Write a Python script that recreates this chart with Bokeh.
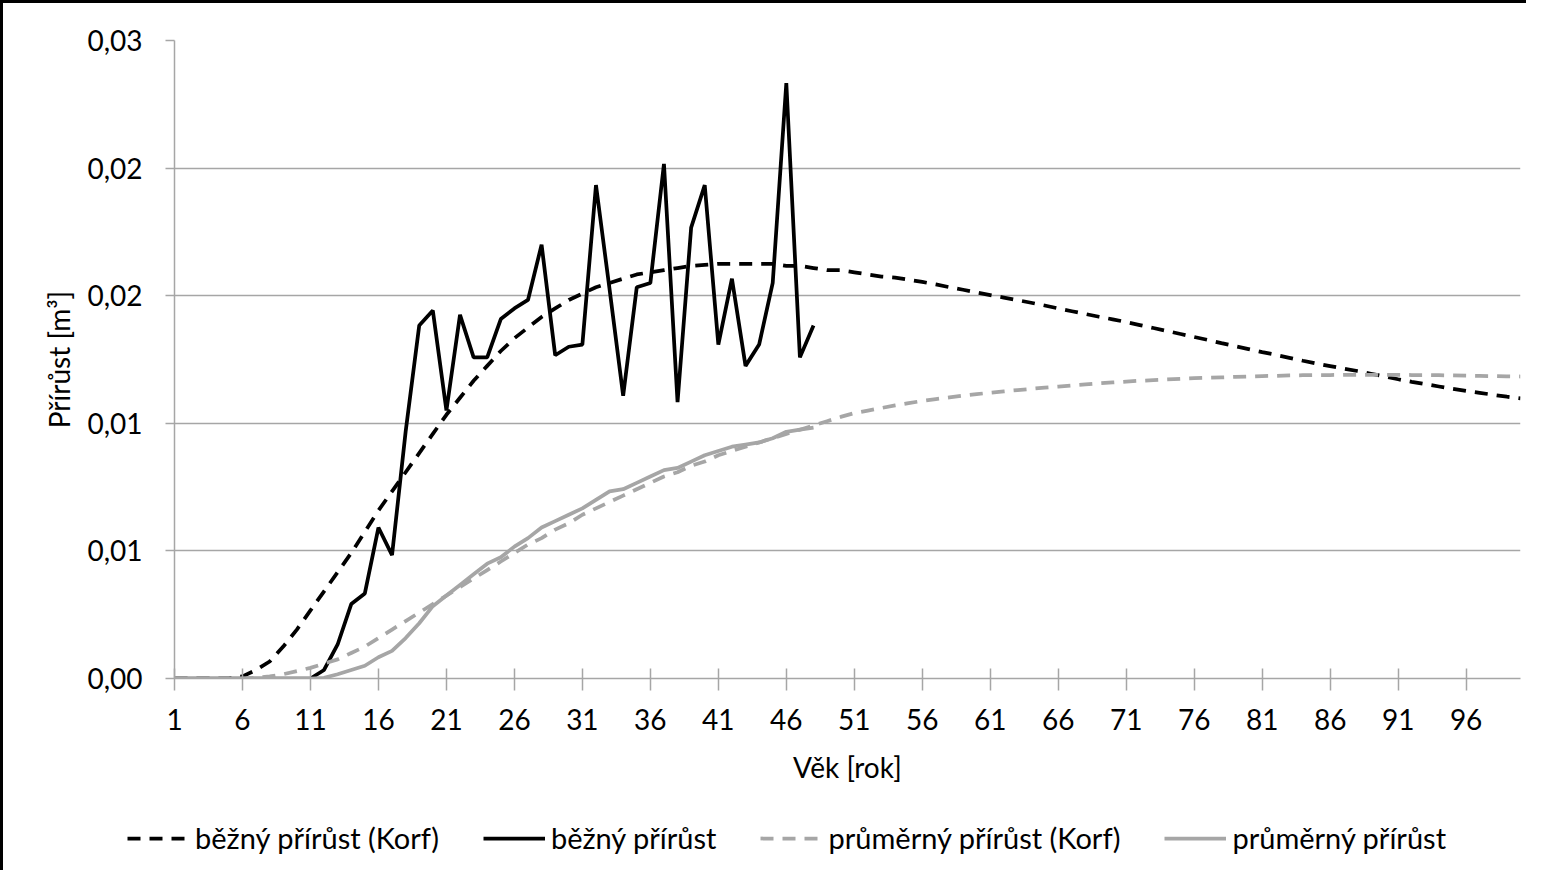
from bokeh.plotting import figure
from bokeh.layouts import column
from bokeh.models import Range1d, FixedTicker, CustomJSTickFormatter, Legend, LegendItem
from bokeh.embed import file_html
from bokeh.resources import INLINE

# ---------------- data ----------------
ages = list(range(1, 101))
bezny_korf = [
    0, 0, 0, 0, 0, 0.0001, 0.0004, 0.0008, 0.0015, 0.0023,
    0.0032, 0.0041, 0.0050, 0.0059, 0.0069, 0.0079, 0.0088, 0.0097, 0.0106, 0.0115,
    0.0124, 0.0132, 0.0140, 0.0147, 0.0154, 0.0160, 0.0165, 0.0170, 0.0174, 0.0178,
    0.0181, 0.0184, 0.0186, 0.0188, 0.0190, 0.0191, 0.0192, 0.0193, 0.0194, 0.01945,
    0.0195, 0.0195, 0.0195, 0.0195, 0.0195, 0.0194, 0.0194, 0.0193, 0.0192, 0.0192,
    0.0191, 0.0190, 0.0189, 0.01885, 0.01875, 0.01865, 0.01853, 0.0184, 0.01828, 0.01815,
    0.01803, 0.01791, 0.01779, 0.01767, 0.01754, 0.0174, 0.01727, 0.01714, 0.01701, 0.01689,
    0.01676, 0.01662, 0.01648, 0.01634, 0.0162, 0.01606, 0.01592, 0.01577, 0.01563, 0.01549,
    0.01535, 0.01522, 0.01508, 0.01494, 0.01481, 0.01469, 0.01457, 0.01446, 0.01433, 0.0142,
    0.01407, 0.01395, 0.01384, 0.01373, 0.01362, 0.01352, 0.01343, 0.01334, 0.01325, 0.01317,
]
prumerny_korf = [
    0, 0, 0, 0, 0, 0.00001, 0.00004, 0.0001, 0.0002, 0.00035,
    0.0005, 0.0007, 0.0009, 0.0012, 0.0015, 0.0019, 0.0023, 0.0027, 0.0031, 0.0035,
    0.0039, 0.0043, 0.0047, 0.0051, 0.0055, 0.0059, 0.0063, 0.0066, 0.0070, 0.0073,
    0.0077, 0.0080, 0.0083, 0.0086, 0.0089, 0.0092, 0.0095, 0.0097, 0.0100, 0.0102,
    0.0105, 0.0107, 0.0109, 0.0111, 0.0113, 0.0115, 0.0117, 0.0119, 0.0121, 0.0123,
    0.01248, 0.0126, 0.01272, 0.01284, 0.01295, 0.01305, 0.01314, 0.01322, 0.0133, 0.01337,
    0.01344, 0.0135, 0.01356, 0.01362, 0.01368, 0.01373, 0.01378, 0.01383, 0.01388, 0.01392,
    0.01396, 0.0140, 0.01403, 0.01406, 0.01409, 0.01412, 0.01414, 0.01416, 0.01418, 0.0142,
    0.01422, 0.01423, 0.01425, 0.01426, 0.01427, 0.01427, 0.01428, 0.01428, 0.01428, 0.01428,
    0.01428, 0.01427, 0.01427, 0.01426, 0.01425, 0.01424, 0.01423, 0.01422, 0.01421, 0.0142,
]
ages_measured = list(range(1, 49))
bezny = [
    0, 0, 0, 0, 0, 0, 0, 0, 0, 0,
    0, 0.0004, 0.0016, 0.0035, 0.0040, 0.0071, 0.0058, 0.0116, 0.0166, 0.0173,
    0.0126, 0.0171, 0.0151, 0.0151, 0.0169, 0.0174, 0.0178, 0.0204, 0.0152, 0.0156,
    0.0157, 0.0232, 0.0183, 0.0133, 0.0184, 0.0186, 0.0242, 0.0130, 0.0212, 0.0232,
    0.0157, 0.0188, 0.0147, 0.0157, 0.0186, 0.0280, 0.0151, 0.0166,
]
prumerny = [
    0, 0, 0, 0, 0, 0, 0, 0, 0, 0,
    0, 0.00003, 0.0002, 0.0004, 0.0006, 0.0010, 0.0013, 0.0019, 0.0026, 0.0034,
    0.0039, 0.0044, 0.0049, 0.0054, 0.0057, 0.0062, 0.0066, 0.0071, 0.0074, 0.0077,
    0.0080, 0.0084, 0.0088, 0.0089, 0.0092, 0.0095, 0.0098, 0.0099, 0.0102, 0.0105,
    0.0107, 0.0109, 0.0110, 0.0111, 0.0113, 0.0116, 0.0117, 0.0118,
]
series_names = ["běžný přírůst (Korf)", "běžný přírůst",
                "průměrný přírůst (Korf)", "průměrný přírůst"]
x_ticks = list(range(1, 100, 5))
y_ticks = [0, 0.006, 0.012, 0.018, 0.024, 0.03]
y_tick_labels = ["0,00", "0,01", "0,01", "0,02", "0,02", "0,03"]
x_title = "Věk [rok]"
y_title = "Přírůst [m³]"

# ---------------- main figure ----------------
FONT = "Lato"
W, H1, H2 = 1526, 800, 70
GRID = "#a6a6a6"
GRAY = "#a6a6a6"
LW = 3.75
DASH = "13 9"

p = figure(width=W, height=H1, output_backend="svg", toolbar_location=None,
           x_range=Range1d(1, 100), y_range=Range1d(0, 0.03),
           min_border_left=171, min_border_right=9,
           min_border_top=37, min_border_bottom=125)
p.styles = {"border-left": "3px solid black", "border-top": "3px solid black"}
p.background_fill_color = "white"
p.border_fill_color = "white"
p.outline_line_color = None

p.xgrid.grid_line_color = None
p.ygrid.grid_line_color = GRID
p.ygrid.grid_line_width = 1.5
p.ygrid.ticker = FixedTicker(ticks=y_ticks)

p.xaxis.ticker = FixedTicker(ticks=x_ticks)
p.yaxis.ticker = FixedTicker(ticks=y_ticks)
p.yaxis.formatter = CustomJSTickFormatter(
    args=dict(tvals=y_ticks, tlabels=y_tick_labels),
    code="""
for (let i = 0; i < tvals.length; i++) {
  if (Math.abs(tvals[i] - tick) < 1e-9) return tlabels[i];
}
return "";
""")

for ax in (p.xaxis[0], p.yaxis[0]):
    ax.axis_line_color = GRID
    ax.axis_line_width = 1.5
    ax.major_tick_line_color = GRID
    ax.major_tick_line_width = 1.5
    ax.minor_tick_line_color = None
    ax.major_label_text_font = FONT
    ax.major_label_text_font_size = "28px"
    ax.major_label_text_color = "black"
    ax.axis_label_text_font = FONT
    ax.axis_label_text_font_size = "28px"
    ax.axis_label_text_font_style = "normal"
    ax.axis_label_text_color = "black"

p.xaxis.major_tick_in = 10
p.xaxis.major_tick_out = 12
p.xaxis.major_label_standoff = 18
p.xaxis.axis_label = x_title
p.xaxis.axis_label_standoff = 17

p.yaxis.major_tick_in = 0
p.yaxis.major_tick_out = 9
p.yaxis.major_label_standoff = 23
p.yaxis.axis_label = y_title
p.yaxis.axis_label_standoff = 8

styles = [dict(line_color="black", line_dash=DASH),
          dict(line_color="black"),
          dict(line_color=GRAY, line_dash=DASH),
          dict(line_color=GRAY)]
series = [(ages, bezny_korf), (ages_measured, bezny),
          (ages, prumerny_korf), (ages_measured, prumerny)]
for (xs, ys), st in zip(series, styles):
    p.line(xs, ys, line_width=LW, **st)

# ---------------- legend strip (series drawn out of view, only the legend shows) ----
q = figure(width=W, height=H2, output_backend="svg", toolbar_location=None,
           x_range=Range1d(200, 300), y_range=Range1d(0, 0.03),
           x_axis_location=None, y_axis_location=None,
           min_border_left=0, min_border_right=0, min_border_top=0, min_border_bottom=0)
q.styles = {"border-left": "3px solid black"}
q.grid.visible = False
q.outline_line_color = None
q.background_fill_color = "white"
q.border_fill_color = "white"
for fig in (p, q):
    try:
        fig.frame_align = False
    except Exception:
        pass
samples = [q.line(xs, ys, line_width=LW, **st) for (xs, ys), st in zip(series, styles)]

legend = Legend(items=[LegendItem(label=n, renderers=[r]) for n, r in zip(series_names, samples)],
                orientation="horizontal", location=(124, 15))
legend.label_text_font = FONT
legend.label_text_font_size = "29px"
legend.label_text_color = "black"
legend.glyph_width = 62
legend.glyph_height = 30
legend.label_height = 30
legend.label_standoff = 6
legend.spacing = 44
legend.padding = 0
legend.margin = 0
legend.border_line_color = None
legend.background_fill_alpha = 0
q.add_layout(legend, "center")

layout = column(p, q, spacing=0)
open("out.html", "w").write(file_html(layout, INLINE))
